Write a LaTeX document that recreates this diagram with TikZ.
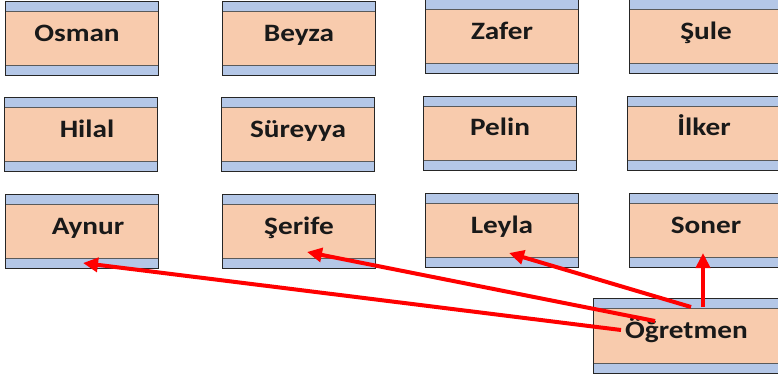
\documentclass[tikz,border=0pt]{standalone}
\usepackage{fontspec}
\setmainfont{Carlito}[FakeStretch=1.17]
\usetikzlibrary{arrows.meta}
\definecolor{peach}{HTML}{F8CBAD}
\definecolor{stripblue}{HTML}{B4C7E7}
\definecolor{sepline}{HTML}{5A5A5A}
\tikzset{
 person/.style={draw=black!85, line width=1pt, fill=peach, minimum width=153pt, minimum height=74pt,
  inner sep=0pt, text height=16pt, text depth=11pt, text=black!90,
  font=\fontsize{25}{30}\selectfont\bfseries,
  path picture={
   \fill[stripblue] (path picture bounding box.north west) rectangle ([yshift=-10pt]path picture bounding box.north east);
   \fill[stripblue] (path picture bounding box.south west) rectangle ([yshift=10pt]path picture bounding box.south east);
   \draw[sepline, line width=1pt] ([yshift=-10pt]path picture bounding box.north west) -- ([yshift=-10pt]path picture bounding box.north east);
   \draw[sepline, line width=1pt] ([yshift=10pt]path picture bounding box.south west) -- ([yshift=10pt]path picture bounding box.south east);
  }},
 arr/.style={draw=red, line width=4pt, -{Triangle[length=15pt,width=14pt]}}
}
\begin{document}
\begin{tikzpicture}[x=1pt,y=-1pt]
\useasboundingbox (0,0) rectangle (778,378);
\clip (0,0) rectangle (778,378);
\node[person] (osman)   at (81.5,38.5)  {\hspace*{-9pt}Osman};
\node[person] (beyza)   at (299,38.5)   {Beyza};
\node[person] (zafer)   at (502,36.5)   {Zafer};
\node[person] (sule)    at (706,36.5)   {Şule};
\node[person] (hilal)   at (80.5,134.5) {\hspace*{13pt}Hilal};
\node[person] (sureyya) at (298,134.5)  {Süreyya};
\node[person] (pelin)   at (500,133)    {Pelin};
\node[person] (ilker)   at (704,133)    {İlker};
\node[person] (aynur)   at (81.5,231.5) {\hspace*{13pt}Aynur};
\node[person] (serife)  at (299,231.5)  {Şerife};
\node[person] (leyla)   at (502,230.5)  {Leyla};
\node[person] (soner)   at (706,230.5)  {Soner};
\node[person, minimum width=187pt, minimum height=75pt] (ogretmen) at (686.5,335.5) {Öğretmen};
\draw[arr] ([shift={(-65.5,-5.5)}]ogretmen.center) -- ([shift={(1.5,-6)}]aynur.south);
\draw[arr] ([shift={(-31.5,-14.5)}]ogretmen.center) -- ([shift={(8,-17)}]serife.south);
\draw[arr] ([shift={(4.5,-28.5)}]ogretmen.center) -- ([shift={(7,-15)}]leyla.south);
\draw[arr] ([shift={(16.5,-28.5)}]ogretmen.center) -- ([shift={(-3,-15)}]soner.south);
\end{tikzpicture}
\end{document}
